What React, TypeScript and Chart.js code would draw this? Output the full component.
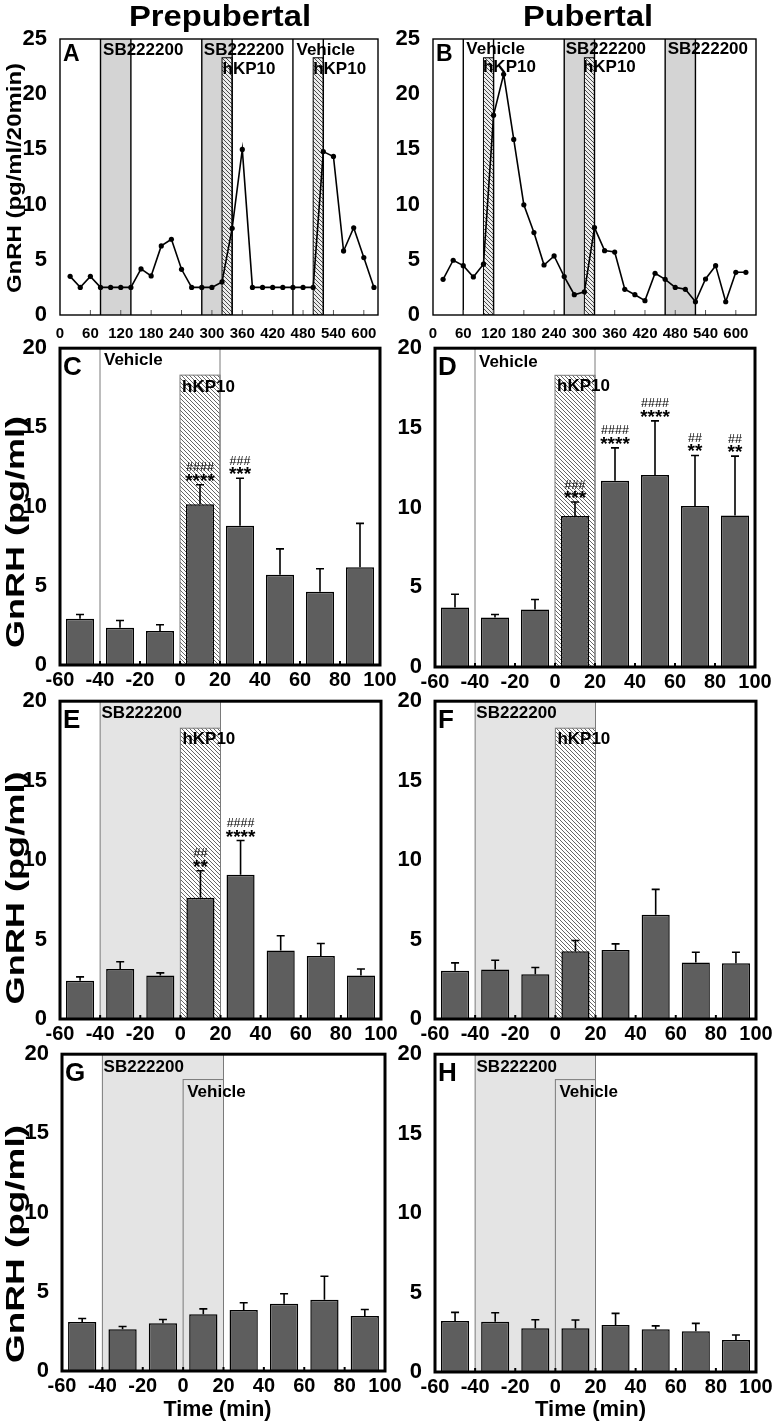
import React, { useEffect, useRef } from "react";
import { Chart, registerables } from "chart.js";

Chart.register(...registerables);

const FONT = "'Liberation Sans', Arial, Helvetica, sans-serif";

// ---------------- Data ----------------
// Panels A / B: GnRH time course (pg/ml/20min), sampled every 20 min
const sampleTimes = [20, 40, 60, 80, 100, 120, 140, 160, 180, 200, 220, 240, 260, 280, 300, 320, 340, 360, 380, 400, 420, 440, 460, 480, 500, 520, 540, 560, 580, 600, 620];
const gnrhPrepubertal = [3.5, 2.5, 3.5, 2.5, 2.5, 2.5, 2.5, 4.17, 3.54, 6.26, 6.86, 4.14, 2.5, 2.5, 2.5, 3.0, 7.86, 15.0, 2.5, 2.5, 2.5, 2.5, 2.5, 2.5, 2.5, 14.8, 14.36, 5.8, 7.9, 5.2, 2.5];
const gnrhPubertal = [3.23, 4.96, 4.47, 3.45, 4.6, 18.1, 21.8, 15.9, 9.98, 7.47, 4.53, 5.35, 3.48, 1.84, 2.1, 7.92, 5.83, 5.7, 2.33, 1.84, 1.3, 3.78, 3.23, 2.5, 2.33, 1.2, 3.26, 4.47, 1.2, 3.87, 3.87];
const timeTicks = [0, 60, 120, 180, 240, 300, 360, 420, 480, 540, 600];
const timeInnerTicks = [60, 120, 180, 240, 300, 360, 420, 480, 540, 600];
const timeCourseYTicks = [0, 5, 10, 15, 20, 25];

// Panels C-H: mean GnRH (pg/ml) per 20-min bin, with SEM
const barTimes = [-50, -30, -10, 10, 30, 50, 70, 90];
const barXTicks = [-60, -40, -20, 0, 20, 40, 60, 80, 100];
const barInnerTicks = [-40, -20, 0, 20, 40, 60, 80];
const barYTicks = [0, 5, 10, 15, 20];

const meanC = [2.92, 2.35, 2.15, 10.15, 8.79, 5.69, 4.63, 6.17];
const semC = [0.27, 0.46, 0.39, 1.23, 3.0, 1.64, 1.45, 2.77];
const starsC = ["", "", "", "****", "***", "", "", ""];
const hashC = ["", "", "", "####", "###", "", "", ""];

const meanD = [3.73, 3.1, 3.6, 9.48, 11.69, 12.04, 10.1, 9.5];
const semD = [0.83, 0.19, 0.63, 0.87, 2.06, 3.4, 3.17, 3.73];
const starsD = ["", "", "", "***", "****", "****", "**", "**"];
const hashD = ["", "", "", "###", "####", "####", "##", "##"];

const meanE = [2.4, 3.15, 2.74, 7.63, 9.08, 4.31, 3.96, 2.74];
const semE = [0.25, 0.45, 0.16, 1.7, 2.15, 0.93, 0.79, 0.41];
const starsE = ["", "", "", "**", "****", "", "", ""];
const hashE = ["", "", "", "##", "####", "", "", ""];

const meanF = [3.03, 3.12, 2.82, 4.26, 4.34, 6.56, 3.55, 3.51];
const semF = [0.5, 0.58, 0.42, 0.68, 0.39, 1.6, 0.65, 0.69];

const meanG = [3.1, 2.63, 3.02, 3.58, 3.85, 4.25, 4.5, 3.48];
const semG = [0.21, 0.18, 0.23, 0.34, 0.46, 0.63, 1.48, 0.4];

const meanH = [3.21, 3.17, 2.75, 2.75, 2.96, 2.69, 2.56, 2.02];
const semH = [0.54, 0.56, 0.54, 0.52, 0.73, 0.21, 0.5, 0.31];

const noMarks = ["", "", "", "", "", "", "", ""];

// ---------------- Types ----------------
type Win = [number, number];
type Label = { text: string; x: number; y: number };
type TextSpec = { text: string; x: number; y: number; size: number; length?: number };

interface PanelCfg {
  letter: string;
  kind: "line" | "bar";
  box: [number, number, number, number];
  plot: [number, number, number, number];
  xRange: [number, number];
  yMax: number;
  xTicks: number[];
  yTicks: number[];
  innerTicks: number[];
  xFont: number;
  xPad: number;
  letterSize: number;
  heavy: boolean;
  xs?: number[];
  ys?: number[];
  means?: number[];
  sems?: number[];
  stars?: string[];
  hashes?: string[];
  greyWins: Win[];
  hatchWins: Win[];
  boxWins: Win[];
  edgeLines: number[];
  boxTop: number;
  labels: Label[];
  yTitle?: TextSpec;
  xTitle?: TextSpec;
  colTitle?: TextSpec;
}

function makeHatch(ctx: CanvasRenderingContext2D, bg: string, fg: string) {
  const t = document.createElement("canvas");
  t.width = 4;
  t.height = 4;
  const g = t.getContext("2d")!;
  g.fillStyle = bg;
  g.fillRect(0, 0, 4, 4);
  g.strokeStyle = fg;
  g.lineWidth = 0.9;
  g.beginPath();
  g.moveTo(-1, -1);
  g.lineTo(5, 5);
  g.moveTo(-1, 3);
  g.lineTo(1, 5);
  g.moveTo(3, -1);
  g.lineTo(5, 1);
  g.stroke();
  return ctx.createPattern(t, "repeat")!;
}

function capText(ctx: CanvasRenderingContext2D, text: string, x: number, yc: number, size: number, weight: string, align: CanvasTextAlign) {
  ctx.font = `${weight} ${size}px ${FONT}`;
  ctx.textAlign = align;
  ctx.textBaseline = "alphabetic";
  ctx.fillText(text, x, yc + (size * 0.716) / 2);
}

function scaledText(ctx: CanvasRenderingContext2D, spec: TextSpec, ox: number, oy: number, rotate: boolean) {
  ctx.save();
  ctx.font = `bold ${spec.size}px ${FONT}`;
  ctx.textAlign = "center";
  ctx.textBaseline = "alphabetic";
  ctx.fillStyle = "#000";
  ctx.translate(spec.x - ox, spec.y - oy);
  if (rotate) ctx.rotate(-Math.PI / 2);
  if (spec.length) {
    const w = ctx.measureText(spec.text).width;
    ctx.scale(spec.length / w, 1);
  }
  ctx.fillText(spec.text, 0, 0);
  ctx.restore();
}

function panelPlugin(cfg: PanelCfg) {
  const [ox, oy] = cfg.box;
  return {
    id: "panelDecor",
    beforeDatasetsDraw(chart: any) {
      const { ctx, chartArea: a, scales } = chart;
      const px = (v: number) => scales.x.getPixelForValue(v);
      const py = (v: number) => scales.y.getPixelForValue(v);
      ctx.save();
      ctx.beginPath();
      ctx.rect(a.left, a.top, a.right - a.left, a.bottom - a.top);
      ctx.clip();
      ctx.fillStyle = cfg.heavy ? "#e4e4e4" : "#d4d4d4";
      cfg.greyWins.forEach(([s, e]) => ctx.fillRect(px(s), a.top, px(e) - px(s), a.bottom - a.top));
      const pat = makeHatch(ctx, cfg.heavy ? "#ffffff" : "#ececec", cfg.heavy ? "#555555" : "#3a3a3a");
      const lineCol = cfg.heavy ? "#7a7a7a" : "#000";
      const top = py(cfg.boxTop);
      cfg.hatchWins.forEach(([s, e]) => {
        ctx.fillStyle = pat;
        ctx.fillRect(px(s), top, px(e) - px(s), a.bottom - top);
        ctx.strokeStyle = lineCol;
        ctx.lineWidth = 1;
        ctx.strokeRect(px(s), top, px(e) - px(s), a.bottom - top);
      });
      cfg.boxWins.forEach(([s, e]) => {
        ctx.strokeStyle = lineCol;
        ctx.lineWidth = 1;
        ctx.strokeRect(px(s), top, px(e) - px(s), a.bottom - top + 2);
      });
      ctx.strokeStyle = lineCol;
      ctx.lineWidth = cfg.heavy ? 1 : 1.4;
      cfg.edgeLines.forEach((v) => {
        ctx.beginPath();
        ctx.moveTo(px(v), a.top);
        ctx.lineTo(px(v), a.bottom);
        ctx.stroke();
      });
      ctx.restore();
    },
    afterDatasetsDraw(chart: any) {
      const { ctx, chartArea: a, scales } = chart;
      const px = (v: number) => scales.x.getPixelForValue(v);
      const py = (v: number) => scales.y.getPixelForValue(v);
      ctx.save();
      ctx.fillStyle = "#000";
      ctx.strokeStyle = "#000";
      if (cfg.kind === "bar" && cfg.means && cfg.sems) {
        cfg.means.forEach((m, i) => {
          const x = px(barTimes[i]);
          const yb = py(m);
          const yt = py(m + cfg.sems![i]);
          ctx.lineWidth = 1.6;
          ctx.beginPath();
          ctx.moveTo(x, yb);
          ctx.lineTo(x, yt);
          ctx.moveTo(x - 4, yt);
          ctx.lineTo(x + 4, yt);
          ctx.stroke();
          const st = cfg.stars ? cfg.stars[i] : "";
          const hs = cfg.hashes ? cfg.hashes[i] : "";
          if (st) {
            ctx.font = `bold 19px ${FONT}`;
            ctx.textAlign = "center";
            ctx.textBaseline = "alphabetic";
            ctx.fillText(st, x, yt + 2);
          }
          if (hs) {
            ctx.font = `12.5px ${FONT}`;
            ctx.textAlign = "center";
            ctx.textBaseline = "alphabetic";
            ctx.fillText(hs, x, yt - 13.5);
          }
        });
      }
      // treatment labels
      cfg.labels.forEach((l) => capText(ctx, l.text, px(l.x), py(l.y), 17, "bold", "left"));
      // inner bottom ticks
      ctx.strokeStyle = cfg.heavy ? "#000" : "#555";
      ctx.lineWidth = cfg.heavy ? 2 : 1;
      cfg.innerTicks.forEach((v) => {
        ctx.beginPath();
        ctx.moveTo(px(v), a.bottom);
        ctx.lineTo(px(v), a.bottom - (cfg.heavy ? 4 : 5));
        ctx.stroke();
      });
      // frame
      ctx.strokeStyle = "#000";
      ctx.lineWidth = cfg.heavy ? 3 : 1.4;
      ctx.strokeRect(a.left, a.top, a.right - a.left, a.bottom - a.top);
      // panel letter
      capText(ctx, cfg.letter, a.left + 3, a.top + (cfg.heavy ? 17 : 14), cfg.letterSize, "bold", "left");
      ctx.restore();
      if (cfg.yTitle) scaledText(ctx, cfg.yTitle, ox, oy, true);
      if (cfg.xTitle) scaledText(ctx, cfg.xTitle, ox, oy, false);
      if (cfg.colTitle) scaledText(ctx, cfg.colTitle, ox, oy, false);
    },
  };
}

// ---------------- Panel definitions ----------------
const COL1_X = 0;
const COL1_W = 405;
const COL2_X = 383;
const COL2_W = 390;

const timeCourseCommon = {
  kind: "line" as const,
  yMax: 25,
  xTicks: timeTicks,
  yTicks: timeCourseYTicks,
  innerTicks: timeInnerTicks,
  xFont: 15,
  xPad: 2,
  letterSize: 23,
  heavy: false,
  boxWins: [] as Win[],
  boxTop: 23.3,
};

const barCommon = {
  kind: "bar" as const,
  xRange: [-60, 100] as [number, number],
  yMax: 20,
  xTicks: barXTicks,
  yTicks: barYTicks,
  innerTicks: barInnerTicks,
  xFont: 20,
  xPad: -5,
  letterSize: 26,
  heavy: true,
  edgeLines: [-40, 20],
};

const panels: PanelCfg[] = [
  {
    ...timeCourseCommon,
    letter: "A",
    box: [COL1_X, 0, COL1_W, 340],
    plot: [60, 39, 378, 315],
    xRange: [0, 628],
    xs: sampleTimes,
    ys: gnrhPrepubertal,
    greyWins: [[80, 140], [280, 340]],
    hatchWins: [[320, 340], [500, 520]],
    edgeLines: [80, 140, 280, 340, 460, 520],
    labels: [
      { text: "SB222200", x: 85, y: 24.1 },
      { text: "SB222200", x: 284, y: 24.1 },
      { text: "hKP10", x: 321, y: 22.4 },
      { text: "Vehicle", x: 467, y: 24.1 },
      { text: "hKP10", x: 500, y: 22.4 },
    ],
    yTitle: { text: "GnRH (pg/ml/20min)", x: 21, y: 178, size: 21, length: 230 },
    colTitle: { text: "Prepubertal", x: 220, y: 26, size: 30, length: 182 },
  },
  {
    ...timeCourseCommon,
    letter: "B",
    box: [COL2_X, 0, COL2_W, 340],
    plot: [433, 39, 756, 315],
    xRange: [0, 640],
    xs: sampleTimes,
    ys: gnrhPubertal,
    greyWins: [[260, 320], [460, 520]],
    hatchWins: [[100, 120], [300, 320]],
    edgeLines: [60, 120, 260, 320, 460, 520],
    labels: [
      { text: "Vehicle", x: 66, y: 24.15 },
      { text: "hKP10", x: 99, y: 22.55 },
      { text: "SB222200", x: 263, y: 24.15 },
      { text: "hKP10", x: 297, y: 22.55 },
      { text: "SB222200", x: 465, y: 24.15 },
    ],
    colTitle: { text: "Pubertal", x: 588, y: 26, size: 30, length: 130 },
  },
  {
    ...barCommon,
    letter: "C",
    box: [COL1_X, 330, COL1_W, 365],
    plot: [60, 345, 380, 665],
    means: meanC,
    sems: semC,
    stars: starsC,
    hashes: hashC,
    greyWins: [],
    hatchWins: [[0, 20]],
    boxWins: [],
    boxTop: 18.3,
    labels: [
      { text: "Vehicle", x: -38, y: 19.3 },
      { text: "hKP10", x: 1, y: 17.6 },
    ],
    yTitle: { text: "GnRH (pg/ml)", x: 23.5, y: 532, size: 26, length: 232 },
  },
  {
    ...barCommon,
    letter: "D",
    box: [COL2_X, 330, COL2_W, 365],
    plot: [435, 347, 755, 667],
    means: meanD,
    sems: semD,
    stars: starsD,
    hashes: hashD,
    greyWins: [],
    hatchWins: [[0, 20]],
    boxWins: [],
    boxTop: 18.3,
    labels: [
      { text: "Vehicle", x: -38, y: 19.2 },
      { text: "hKP10", x: 1, y: 17.7 },
    ],
  },
  {
    ...barCommon,
    letter: "E",
    box: [COL1_X, 683, COL1_W, 365],
    plot: [60, 698, 381, 1019],
    means: meanE,
    sems: semE,
    stars: starsE,
    hashes: hashE,
    greyWins: [[-40, 20]],
    hatchWins: [[0, 20]],
    boxWins: [],
    boxTop: 18.3,
    labels: [
      { text: "SB222200", x: -39.3, y: 19.3 },
      { text: "hKP10", x: 1, y: 17.7 },
    ],
    yTitle: { text: "GnRH (pg/ml)", x: 23.5, y: 888, size: 26, length: 233 },
  },
  {
    ...barCommon,
    letter: "F",
    box: [COL2_X, 683, COL2_W, 365],
    plot: [435, 698, 756, 1019],
    means: meanF,
    sems: semF,
    stars: noMarks,
    hashes: noMarks,
    greyWins: [[-40, 20]],
    hatchWins: [[0, 20]],
    boxWins: [],
    boxTop: 18.3,
    labels: [
      { text: "SB222200", x: -39.4, y: 19.3 },
      { text: "hKP10", x: 1, y: 17.7 },
    ],
  },
  {
    ...barCommon,
    letter: "G",
    box: [COL1_X, 1036, COL1_W, 388],
    plot: [62, 1051, 385, 1371],
    means: meanG,
    sems: semG,
    stars: noMarks,
    hashes: noMarks,
    greyWins: [[-40, 20]],
    hatchWins: [],
    boxWins: [[0, 20]],
    boxTop: 18.4,
    labels: [
      { text: "SB222200", x: -39.4, y: 19.25 },
      { text: "Vehicle", x: 2, y: 17.7 },
    ],
    yTitle: { text: "GnRH (pg/ml)", x: 24, y: 1244, size: 26, length: 238 },
    xTitle: { text: "Time (min)", x: 217.5, y: 1416, size: 22, length: 108 },
  },
  {
    ...barCommon,
    letter: "H",
    box: [COL2_X, 1036, COL2_W, 388],
    plot: [435, 1052, 756, 1372],
    means: meanH,
    sems: semH,
    stars: noMarks,
    hashes: noMarks,
    greyWins: [[-40, 20]],
    hatchWins: [],
    boxWins: [[0, 20]],
    boxTop: 18.4,
    labels: [
      { text: "SB222200", x: -39.3, y: 19.25 },
      { text: "Vehicle", x: 2, y: 17.7 },
    ],
    xTitle: { text: "Time (min)", x: 590.5, y: 1416, size: 22, length: 111 },
  },
];

function Panel({ cfg }: { cfg: PanelCfg }) {
  const ref = useRef<HTMLCanvasElement | null>(null);
  const [bx, by, bw, bh] = cfg.box;
  useEffect(() => {
    const canvas = ref.current;
    if (!canvas) return;
    const [pl, pt, pr, pb] = cfg.plot;
    const yAxisW = pl - bx;
    const xAxisH = by + bh - pb;
    const isLine = cfg.kind === "line";
    const dataset: any = isLine
      ? {
          type: "line",
          data: (cfg.xs || []).map((x, i) => ({ x, y: (cfg.ys || [])[i] })),
          borderColor: "#000",
          borderWidth: 1.6,
          pointRadius: 2.6,
          pointBackgroundColor: "#000",
          pointBorderWidth: 0,
          tension: 0,
          clip: false,
        }
      : {
          type: "bar",
          data: barTimes.map((x, i) => ({ x, y: (cfg.means || [])[i] })),
          backgroundColor: "#5e5e5e",
          borderColor: "#000",
          borderWidth: 1.5,
          barPercentage: 0.7,
          categoryPercentage: 1,
        };
    const tickFont = (size: number) => ({ family: FONT, size, weight: "bold" as const });
    const chart = new Chart(canvas, {
      type: isLine ? "line" : "bar",
      data: { datasets: [dataset] },
      options: {
        animation: false,
        responsive: false,
        maintainAspectRatio: false,
        events: [],
        layout: { autoPadding: false, padding: { left: 0, top: pt - by, right: bx + bw - pr, bottom: 0 } },
        plugins: { legend: { display: false }, tooltip: { enabled: false }, title: { display: false } },
        scales: {
          x: {
            type: "linear",
            min: cfg.xRange[0],
            max: cfg.xRange[1],
            offset: false,
            grid: { display: false },
            border: { display: false },
            ticks: {
              autoSkip: false,
              maxRotation: 0,
              minRotation: 0,
              padding: cfg.xPad,
              color: "#000",
              font: tickFont(cfg.xFont),
              callback: (v: any) => String(v),
            },
            afterBuildTicks: (s: any) => {
              s.ticks = cfg.xTicks.map((v) => ({ value: v }));
            },
            afterFit: (s: any) => {
              s.height = xAxisH;
            },
          },
          y: {
            type: "linear",
            min: 0,
            max: cfg.yMax,
            grid: { display: false },
            border: { display: false },
            ticks: {
              padding: 5,
              color: "#000",
              font: tickFont(22),
              callback: (v: any) => String(v),
            },
            afterBuildTicks: (s: any) => {
              s.ticks = cfg.yTicks.map((v) => ({ value: v }));
            },
            afterFit: (s: any) => {
              s.width = yAxisW;
            },
          },
        } as any,
      },
      plugins: [panelPlugin(cfg) as any],
    });
    return () => chart.destroy();
  }, []);
  return (
    <canvas
      ref={ref}
      width={bw}
      height={bh}
      style={{ position: "absolute", left: bx, top: by, width: bw, height: bh }}
    />
  );
}

export default function App() {
  return (
    <div style={{ position: "absolute", left: 0, top: 0, width: 773, height: 1424, background: "#fff", overflow: "hidden" }}>
      {panels.map((p) => (
        <Panel key={p.letter} cfg={p} />
      ))}
    </div>
  );
}
